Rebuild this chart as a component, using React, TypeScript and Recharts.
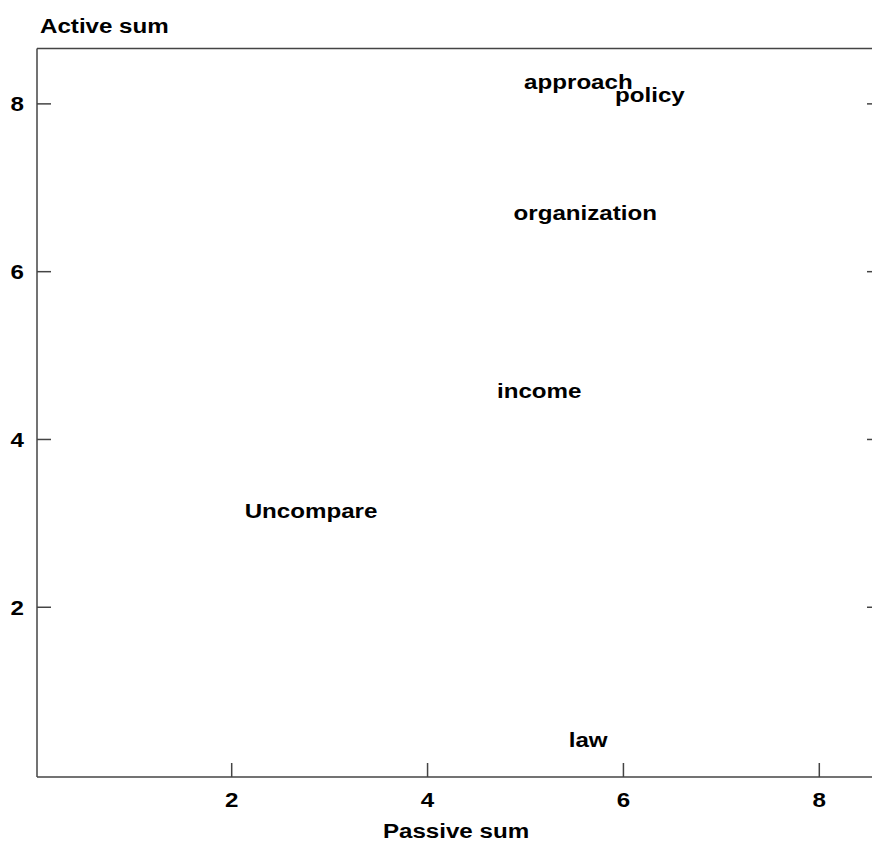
import React from "react";
import { ScatterChart, Scatter, XAxis, YAxis } from "recharts";

const words = ["approach", "policy", "organization", "income", "Uncompare", "law"];
const passiveSum = [5.54, 6.27, 5.61, 5.14, 2.81, 5.64];
const activeSum = [8.27, 8.11, 6.7, 4.58, 3.15, 0.42];
const xTicks = [2, 4, 6, 8];
const yTicks = [2, 4, 6, 8];

const data = words.map((w, i) => ({ word: w, x: passiveSum[i], y: activeSum[i] }));

const FONT = "'Liberation Sans', Arial, sans-serif";
const FS = 21;
const SX = 1.15;
const INK = "#000";
const LINE = "#444";
const TICK = 14;

const T = ({ x, y, anchor, children }: any) => (
  <text
    transform={`translate(${x},${y}) scale(${SX},1)`}
    textAnchor={anchor}
    fontFamily={FONT}
    fontSize={FS}
    fontWeight="bold"
    fill={INK}
  >
    {children}
  </text>
);

const BottomTick = (p: any) => (
  <g>
    <line x1={p.x} x2={p.x} y1={p.y} y2={p.y - TICK} stroke={LINE} strokeWidth={1.5} />
    <T x={p.x} y={p.y + 29.5} anchor="middle">{p.payload.value}</T>
  </g>
);
const TopTick = (p: any) => (
  <line x1={p.x} x2={p.x} y1={p.y} y2={p.y + TICK} stroke={LINE} strokeWidth={1.5} />
);
const LeftTick = (p: any) => (
  <g>
    <line x1={p.x} x2={p.x + TICK} y1={p.y} y2={p.y} stroke={LINE} strokeWidth={1.5} />
    <T x={p.x - 13} y={p.y + 7.5} anchor="end">{p.payload.value}</T>
  </g>
);
const RightTick = (p: any) => (
  <line x1={p.x} x2={p.x - TICK} y1={p.y} y2={p.y} stroke={LINE} strokeWidth={1.5} />
);

const WordShape = (p: any) => (
  <T x={p.cx} y={p.cy + 7.5} anchor="middle">{p.payload.word}</T>
);

const xDomain: [number, number] = [0.012, 8.63];
const yDomain: [number, number] = [-0.023, 8.66];
const axisLine = { stroke: LINE, strokeWidth: 1.5 };

export default function App() {
  return (
    <div style={{ position: "absolute", left: 0, top: 0, width: 872, height: 843, overflow: "hidden", background: "#fff" }}>
      <ScatterChart width={900} height={843} margin={{ top: 47.5, right: 18, bottom: 65, left: 36 }}>
        <XAxis
          dataKey="x"
          type="number"
          domain={xDomain}
          ticks={xTicks}
          allowDataOverflow
          height={1}
          tickSize={0}
          tickMargin={0}
          tickLine={false}
          axisLine={axisLine}
          tick={<BottomTick />}
          interval={0}
          label={{
            content: () => <T x={456} y={838} anchor="middle">Passive sum</T>,
          }}
        />
        <XAxis
          xAxisId="top"
          orientation="top"
          type="number"
          domain={xDomain}
          ticks={xTicks}
          allowDataOverflow
          height={1}
          tickSize={0}
          tickMargin={0}
          tickLine={false}
          axisLine={axisLine}
          tick={<TopTick />}
          interval={0}
        />
        <YAxis
          dataKey="y"
          type="number"
          domain={yDomain}
          ticks={yTicks}
          allowDataOverflow
          width={1}
          tickSize={0}
          tickMargin={0}
          tickLine={false}
          axisLine={axisLine}
          tick={<LeftTick />}
          interval={0}
          label={{
            content: () => <T x={40} y={33} anchor="start">Active sum</T>,
          }}
        />
        <YAxis
          yAxisId="right"
          orientation="right"
          type="number"
          domain={yDomain}
          ticks={yTicks}
          allowDataOverflow
          width={1}
          tickSize={0}
          tickMargin={0}
          tickLine={false}
          axisLine={axisLine}
          tick={<RightTick />}
          interval={0}
        />
        <Scatter data={data} shape={<WordShape />} isAnimationActive={false} />
      </ScatterChart>
    </div>
  );
}
